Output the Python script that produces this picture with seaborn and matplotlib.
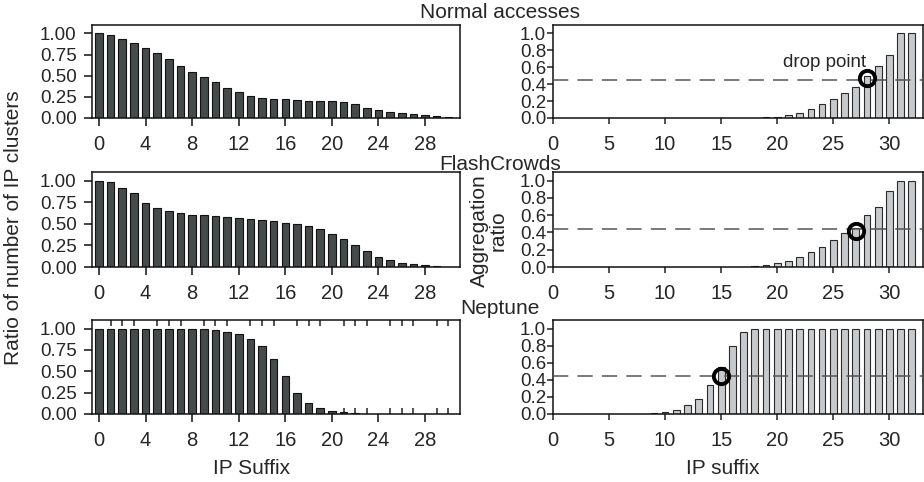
import matplotlib
matplotlib.use("Agg")
import matplotlib.pyplot as plt
from matplotlib.ticker import FixedLocator, FormatStrFormatter
import seaborn as sns

# IP suffix length (left column) and per-suffix ratio of IP clusters
suffix_left = list(range(31))
normal_clusters = [1.00, 0.98, 0.94, 0.89, 0.83, 0.77, 0.70, 0.62, 0.54, 0.49,
                   0.42, 0.36, 0.31, 0.26, 0.24, 0.225, 0.22, 0.21, 0.205, 0.20,
                   0.20, 0.19, 0.16, 0.12, 0.10, 0.07, 0.06, 0.05, 0.03, 0.02, 0.01]
flash_clusters = [1.00, 0.99, 0.92, 0.86, 0.74, 0.68, 0.65, 0.63, 0.60, 0.60,
                  0.59, 0.58, 0.57, 0.555, 0.54, 0.53, 0.51, 0.50, 0.47, 0.44,
                  0.38, 0.32, 0.25, 0.18, 0.12, 0.08, 0.05, 0.03, 0.02, 0.01, 0.003]
neptune_clusters = [1.00, 1.00, 1.00, 1.00, 1.00, 0.998, 0.998, 0.997, 0.995, 0.99,
                    0.98, 0.965, 0.94, 0.88, 0.79, 0.64, 0.44, 0.25, 0.125, 0.07,
                    0.035, 0.02, 0.01, 0, 0, 0, 0, 0, 0, 0, 0]

# IP suffix length (right column) and aggregation ratio
suffix_right = list(range(33))
normal_agg = [0] * 18 + [0.003, 0.008, 0.015, 0.036, 0.063, 0.107, 0.16, 0.23,
                         0.29, 0.37, 0.50, 0.62, 0.75, 1.0, 1.0]
flash_agg = [0] * 17 + [0.004, 0.01, 0.02, 0.05, 0.075, 0.12, 0.175, 0.235,
                        0.31, 0.39, 0.45, 0.60, 0.69, 0.88, 1.0, 1.0]
neptune_agg = [0] * 8 + [0.004, 0.01, 0.024, 0.05, 0.10, 0.18, 0.34, 0.55,
                         0.80, 0.96] + [0.995] * 8 + [1.0] * 7

# drop points and thresholds per traffic type
titles = ["Normal accesses", "FlashCrowds", "Neptune"]
drop_suffix = [28, 27, 15]
drop_ratio = [0.47, 0.42, 0.44]
threshold = [0.45, 0.44, 0.44]

left_tick_labels = [0, 4, 8, 12, 16, 20, 24, 28]
left_y_ticks = [0.0, 0.25, 0.5, 0.75, 1.0]
right_tick_labels = [0, 5, 10, 15, 20, 25, 30]
right_y_ticks = [0.0, 0.2, 0.4, 0.6, 0.8, 1.0]

sns.set_style("white")
plt.rcParams["font.family"] = ["Liberation Sans", "DejaVu Sans"]

W, H = 924, 482
fig = plt.figure(figsize=(W / 100, H / 100), dpi=100)


def box(x0, y0, x1, y1):
    return [x0 / W, 1 - y1 / H, (x1 - x0) / W, (y1 - y0) / H]


rows = [(25, 118), (172, 267), (320, 414)]
left_series = [normal_clusters, flash_clusters, neptune_clusters]
right_series = [normal_agg, flash_agg, neptune_agg]

DARK = "#454b4b"
LIGHT = "#c7cacd"

for i, (y0, y1) in enumerate(rows):
    # left: ratio of number of IP clusters
    axl = fig.add_axes(box(92, y0, 460, y1))
    sns.barplot(x=suffix_left, y=left_series[i], native_scale=True, width=0.65,
                color=DARK, saturation=1, edgecolor="#111111", linewidth=0.8,
                errorbar=None, ax=axl)
    axl.set_xlim(-0.6, 31)
    axl.set_ylim(0, 1.1)
    axl.set_xticks(left_tick_labels)
    axl.set_xticklabels([str(t) for t in left_tick_labels])
    axl.set_yticks(left_y_ticks)
    axl.yaxis.set_major_formatter(FormatStrFormatter("%.2f"))
    axl.tick_params(axis="x", direction="out", length=6, width=1.2,
                    labelsize=14.5, pad=6, bottom=True, color="#222222")
    axl.tick_params(axis="y", direction="out", length=6, width=1.2,
                    labelsize=13.5, pad=5, left=True, color="#222222")
    if i == 2:
        minor = [k for k in range(1, 31) if k % 4 != 0]
        axl.xaxis.set_minor_locator(FixedLocator(minor))
        axl.tick_params(axis="x", which="minor", direction="in", length=4,
                        width=1.1, top=True, bottom=True, color="#222222")
    axl.set_xlabel("")
    axl.set_ylabel("")

    # right: aggregation ratio
    axr = fig.add_axes(box(553, y0, 923, y1))
    sns.barplot(x=suffix_right, y=right_series[i], native_scale=True, width=0.6,
                color=LIGHT, saturation=1, edgecolor="#2a2a2a", linewidth=0.8,
                errorbar=None, ax=axr)
    axr.axhline(threshold[i], color="#555555", lw=1.1, dashes=(10, 6), zorder=5)
    axr.plot([drop_suffix[i]], [drop_ratio[i]], marker="o", ms=11, mfc="none",
             mec="black", mew=2.8, zorder=6)
    axr.set_xlim(0, 33)
    axr.set_ylim(0, 1.1)
    axr.set_xticks(right_tick_labels)
    axr.set_xticklabels([str(t) for t in right_tick_labels])
    axr.set_yticks(right_y_ticks)
    axr.yaxis.set_major_formatter(FormatStrFormatter("%.1f"))
    axr.tick_params(axis="x", direction="out", length=4, width=1.1,
                    labelsize=14.5, pad=8, bottom=True, color="#222222")
    axr.tick_params(axis="y", direction="out", length=4, width=1.1,
                    labelsize=13.5, pad=1, left=True, color="#222222")
    axr.set_xlabel("")
    axr.set_ylabel("")
    if i == 0:
        axr.text(24.2, 0.66, "drop point", fontsize=13.5, ha="center", va="center")

    for ax in (axl, axr):
        for sp in ax.spines.values():
            sp.set_visible(True)
            sp.set_color("#111111")
            sp.set_linewidth(1.1)

# row titles and shared labels
for title, yc in zip(titles, [13, 164, 308]):
    fig.text(500 / W, 1 - yc / H, title, fontsize=15, ha="center", va="center")

fig.text(14 / W, 1 - 228 / H, "Ratio of number of IP clusters", fontsize=15,
         rotation=90, ha="center", va="center")
fig.text(489 / W, 1 - 231 / H, "Aggregation\nratio", fontsize=15, rotation=90,
         ha="center", va="center", linespacing=0.95, multialignment="center")
fig.text(252 / W, 1 - 469 / H, "IP Suffix", fontsize=15, ha="center", va="center")
fig.text(723 / W, 1 - 468 / H, "IP suffix", fontsize=15, ha="center", va="center")

fig.savefig("out.png", dpi=100)
